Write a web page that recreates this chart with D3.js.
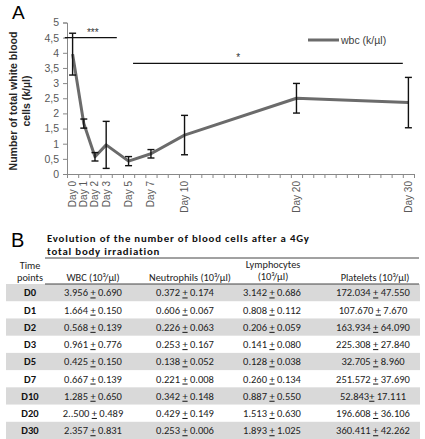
<!DOCTYPE html>
<html><head><meta charset="utf-8">
<script src="https://cdn.jsdelivr.net/npm/d3@7/dist/d3.min.js"></script>
<style>
body{margin:0;background:#fff;}
svg{display:block;}
</style></head>
<body>
<svg id="c" width="425" height="439"></svg>
<script>
// ---- Panel A data ----
const days = [0, 1, 2, 3, 5, 7, 10, 20, 30];
const wbc = [3.956, 1.664, 0.568, 0.961, 0.425, 0.667, 1.285, 2.500, 2.357];
const wbcErr = [0.690, 0.150, 0.139, 0.776, 0.150, 0.139, 0.650, 0.489, 0.831];
const dayLabels = ["Day 0","Day 1","Day 2","Day 3","Day 5","Day 7","Day 10","Day 20","Day 30"];
const yTicks = [0,0.5,1,1.5,2,2.5,3,3.5,4,4.5,5];
const sigFrom = [-0.7, 5.4];
const sigTo = [3.95, 29.5];
const sigLevel = [4.5, 3.65];
const sigMark = ["***", "*"];
const sigMarkDay = [1.8, 14.8];
const legendLabel = "wbc (k/µl)";

// ---- Panel B data ----
const tableTitle1 = "Evolution of the number  of blood cells after a 4Gy";
const tableTitle2 = "total body irradiation";
const timePoints = ["D0","D1","D2","D3","D5","D7","D10","D20","D30"];
const colWBC = ["3.956 + 0.690","1.664 + 0.150","0.568 + 0.139","0.961 + 0.776","0.425 + 0.150","0.667 + 0.139","1.285 + 0.650","2..500 + 0.489","2.357 + 0.831"];
const colNeut = ["0.372 + 0.174","0.606 + 0.067","0.226 + 0.063","0.253 + 0.167","0.138 + 0.052","0.221 + 0.008","0.342 + 0.148","0.429 + 0.149","0.253 + 0.006"];
const colLymph = ["3.142 + 0.686","0.808 + 0.112","0.206 + 0.059","0.141 + 0.080","0.128 + 0.038","0.260 + 0.134","0.887 + 0.550","1.513 + 0.630","1.893 + 1.025"];
const colPlat = ["172.034 + 47.550","107.670 + 7.670","163.934 + 64.090","225.308 + 27.840","32.705 + 8.960","251.572 + 37.690","52.843+ 17.111","196.608 + 36.106","360.411 + 42.262"];

const svg = d3.select("#c");
const axisFont = "'Liberation Sans', Arial, sans-serif";
const tabFont = "Carlito, Lato, 'Open Sans', sans-serif";

// ---- Panel A ----
const x = d3.scaleLinear().domain([-0.5, 30.5]).range([67, 414]);
const y = d3.scaleLinear().domain([0, 5]).range([174, 22.5]);

svg.append("text").attr("x", 12).attr("y", 19).attr("font-family", axisFont)
  .attr("font-size", 19).attr("fill", "#000").text("A");

// y axis
const yAxis = d3.axisLeft(y).tickValues(yTicks).tickSize(4).tickPadding(4)
  .tickFormat(d => String(d).replace(".", ","));
const gy = svg.append("g").attr("transform", `translate(${x(-0.5)},0)`).call(yAxis);
gy.select(".domain").attr("stroke", "#888");
gy.selectAll(".tick line").attr("stroke", "#888");
gy.selectAll(".tick text").attr("font-family", axisFont).attr("font-size", 10.5).attr("fill", "#595959");

// x axis: ticks between categories
const catTicks = d3.range(-0.5, 31, 1);
const xAxis = d3.axisBottom(x).tickValues(catTicks).tickSize(4).tickFormat("");
const gx = svg.append("g").attr("transform", `translate(0,${y(0)})`).call(xAxis);
gx.select(".domain").attr("stroke", "#888");
gx.selectAll(".tick line").attr("stroke", "#888");

svg.append("g").selectAll("text").data(days).join("text")
  .attr("transform", d => `translate(${x(d)},${y(0) + 7}) rotate(-90)`)
  .attr("text-anchor", "end").attr("dy", "0.35em")
  .attr("font-family", axisFont).attr("font-size", 10).attr("fill", "#595959")
  .text((d, i) => dayLabels[i]);

// y title
const yt = svg.append("text").attr("transform", `translate(17,101) rotate(-90)`)
  .attr("text-anchor", "middle").attr("font-family", axisFont).attr("font-weight", "bold")
  .attr("font-size", 10.5).attr("fill", "#262626");
yt.append("tspan").attr("x", 0).attr("dy", 0).text("Number of total  white blood");
yt.append("tspan").attr("x", 0).attr("dy", 13).text("cells (k/µl)");

// line
const pts = days.map((d, i) => [d, wbc[i]]);
svg.append("path").datum(pts)
  .attr("d", d3.line().x(p => x(p[0])).y(p => y(p[1])))
  .attr("fill", "none").attr("stroke", "#6b6b6b").attr("stroke-width", 3).attr("stroke-linejoin", "round");

// error bars
const eb = svg.append("g").attr("stroke", "#111").attr("stroke-width", 1.4);
days.forEach((d, i) => {
  const cx = x(d), t = y(wbc[i] + wbcErr[i]), b = y(wbc[i] - wbcErr[i]);
  eb.append("line").attr("x1", cx).attr("x2", cx).attr("y1", t).attr("y2", b);
  eb.append("line").attr("x1", cx - 3.5).attr("x2", cx + 3.5).attr("y1", t).attr("y2", t);
  eb.append("line").attr("x1", cx - 3.5).attr("x2", cx + 3.5).attr("y1", b).attr("y2", b);
});

// significance lines
sigLevel.forEach((lv, i) => {
  svg.append("line").attr("x1", x(sigFrom[i])).attr("x2", x(sigTo[i]))
    .attr("y1", y(lv)).attr("y2", y(lv)).attr("stroke", "#111").attr("stroke-width", 1.3);
  svg.append("text").attr("x", x(sigMarkDay[i])).attr("y", y(lv) - 2)
    .attr("text-anchor", "middle").attr("font-family", axisFont).attr("font-size", 10)
    .attr("fill", "#333").text(sigMark[i]);
});

// legend
svg.append("line").attr("x1", 308).attr("x2", 339).attr("y1", 40).attr("y2", 40)
  .attr("stroke", "#6b6b6b").attr("stroke-width", 3);
svg.append("text").attr("x", 341).attr("y", 44).attr("font-family", axisFont)
  .attr("font-size", 10.5).attr("fill", "#404040").text(legendLabel);

// ---- Panel B ----
svg.append("text").attr("x", 11).attr("y", 247).attr("font-family", axisFont)
  .attr("font-size", 20).attr("fill", "#000").text("B");
const tt = svg.append("text").attr("font-family", tabFont)
  .attr("font-weight", "bold").attr("font-size", 10.8).attr("letter-spacing", 0.8)
  .attr("fill", "#111");
tt.append("tspan").attr("x", 47).attr("y", 242).text(tableTitle1);
tt.append("tspan").attr("x", 47).attr("y", 255.4).text(tableTitle2);
svg.append("line").attr("x1", 45).attr("x2", 419).attr("y1", 258).attr("y2", 258)
  .attr("stroke", "#444").attr("stroke-width", 1);

const rows = d3.scaleBand().domain(timePoints).range([284, 439]);
const colX = [30, 93, 185, 272, 373];
const hdrX = [30, 93, 190, 273, 375];

// bands
svg.append("g").selectAll("rect").data(timePoints.filter((d, i) => i % 2 === 0)).join("rect")
  .attr("x", 6).attr("width", 414).attr("y", d => rows(d)).attr("height", rows.bandwidth())
  .attr("fill", "#d9d9d9");

svg.append("line").attr("x1", 45).attr("x2", 419).attr("y1", 284).attr("y2", 284)
  .attr("stroke", "#444").attr("stroke-width", 1);

// headers
const hdr = (xx, yy, t) => svg.append("text").attr("x", xx).attr("y", yy).attr("text-anchor", "middle")
  .attr("font-family", tabFont).attr("font-size", 10.3).attr("fill", "#222").text(t);
hdr(hdrX[0], 269, "Time");
hdr(hdrX[0], 281, "points");
hdr(hdrX[1], 281, "WBC (10³/µl)");
hdr(hdrX[2], 281, "Neutrophils (10³/µl)");
hdr(hdrX[3], 268, "Lymphocytes");
hdr(hdrX[3], 280, "(10³/µl)");
hdr(hdrX[4], 281, "Platelets (10³/µl)");

// cells
const cols = [colWBC, colNeut, colLymph, colPlat];
timePoints.forEach((tp, i) => {
  const cy = rows(tp) + rows.bandwidth() / 2 + 3.8;
  svg.append("text").attr("x", colX[0]).attr("y", cy).attr("text-anchor", "middle")
    .attr("font-family", tabFont).attr("font-weight", "bold").attr("font-size", 10.5)
    .attr("fill", "#111").text(tp);
  cols.forEach((col, j) => {
    const parts = col[i].split("+");
    const t = svg.append("text").attr("x", colX[j + 1]).attr("y", cy).attr("text-anchor", "middle")
      .attr("font-family", tabFont).attr("font-size", 10.5)
      .attr("fill", "#222");
    t.append("tspan").text(parts[0]);
    t.append("tspan").attr("text-decoration", "underline").text("+");
    t.append("tspan").text(parts[1]);
  });
});
</script>
</body></html>
